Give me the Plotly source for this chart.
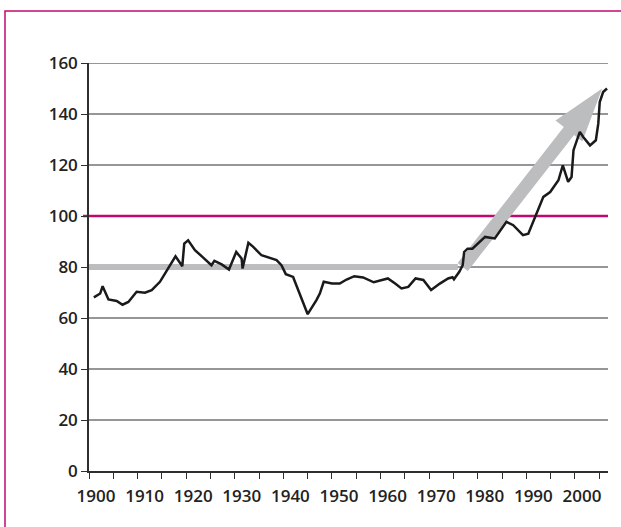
import numpy as np
import plotly.graph_objects as go

# ---- data ----
years = [1901, 1902.3, 1902.8, 1904, 1905.7, 1906.9, 1908.1, 1909.8, 1911.5, 1912.9,
         1914.6, 1916.3, 1917.8, 1919.2, 1919.6, 1920.4, 1921.8, 1923.5, 1925.2, 1925.8,
         1927.3, 1928.8, 1930.3, 1931.4, 1931.6, 1932.8, 1933.8, 1935.5, 1938.6, 1939.6,
         1940.5, 1942, 1943.4, 1945, 1946.8, 1947.5, 1948.3, 1950, 1951.6, 1953,
         1954.6, 1956.4, 1958.6, 1960.5, 1961.5, 1963, 1964.3, 1965.7, 1967.2, 1968.8,
         1970.4, 1972.2, 1973.9, 1974.8, 1975.1, 1976.2, 1976.9, 1977.2, 1977.9, 1978.9,
         1980.5, 1981.5, 1983.5, 1985.9, 1987.3, 1989.3, 1990.4, 1992.1, 1993.5, 1994.9,
         1996.6, 1997.5, 1998.6, 1999.3, 1999.7, 2001, 2001.7, 2003.1, 2004.3, 2004.8,
         2005.1, 2005.8, 2006.6]
index_values = [68.1, 69.6, 72.5, 67.3, 66.7, 65.2, 66.3, 70.3, 69.9, 70.9,
                74.2, 79.4, 84.2, 80.3, 89.2, 90.5, 86.6, 83.7, 80.7, 82.4,
                81.0, 79.0, 85.9, 83.3, 79.4, 89.5, 87.9, 84.6, 82.7, 80.7,
                77.2, 76.1, 69.6, 61.5, 67.0, 69.6, 74.2, 73.5, 73.5, 75.1,
                76.4, 75.9, 74.0, 75.0, 75.5, 73.5, 71.6, 72.2, 75.5, 74.9,
                71.0, 73.5, 75.5, 76.0, 75.2, 78.1, 80.7, 85.9, 87.2, 87.2,
                89.8, 91.8, 91.2, 97.7, 96.4, 92.5, 93.1, 101.0, 107.5, 109.4,
                114.0, 119.9, 113.4, 115.3, 125.8, 133.0, 131.0, 127.7, 129.7, 136.2,
                144.7, 148.6, 150.0]

reference_level = 100
plateau_level = 80
plateau_years = [1900, 1975.9]
trend_start = (1976.9, 80)
trend_end = (2005.6, 150)

x_ticks = list(range(1900, 2006, 5))
x_labels = [str(y) if y % 10 == 0 else "" for y in x_ticks]
y_ticks = list(range(0, 161, 20))

x_range = [1900, 2006.8]
y_range = [0, 160]

# ---- layout geometry ----
W, H = 621, 527
M = dict(l=89, r=13, t=63, b=56)
PW = W - M["l"] - M["r"]
PH = H - M["t"] - M["b"]

MAGENTA = "#c2086e"
GRID = "#2e2e2e"
GREY = "#bcbdbf"


def to_px(x, y):
    return ((x - x_range[0]) / (x_range[1] - x_range[0]) * PW,
            (y - y_range[0]) / (y_range[1] - y_range[0]) * PH)


def to_data(px, py):
    return (x_range[0] + px / PW * (x_range[1] - x_range[0]),
            y_range[0] + py / PH * (y_range[1] - y_range[0]))


# arrow polygon built from the trend anchors
T = np.array(to_px(*trend_start))
P = np.array(to_px(*trend_end))
u = (P - T) / np.linalg.norm(P - T)
n = np.array([-u[1], u[0]])
shaft_hw, head_hw, head_len = 6.5, 17.0, 54.0
B = P - u * head_len
poly_px = [T + n * shaft_hw, B + n * shaft_hw, B + n * head_hw, P,
           B - n * head_hw, B - n * shaft_hw, T - n * shaft_hw, T + n * shaft_hw]
poly = [to_data(*p) for p in poly_px]

fig = go.Figure()
fig.add_trace(go.Scatter(x=plateau_years, y=[plateau_level] * 2, mode="lines",
                         line=dict(color=GREY, width=6), hoverinfo="skip"))
fig.add_trace(go.Scatter(x=[p[0] for p in poly], y=[p[1] for p in poly], mode="lines",
                         fill="toself", fillcolor=GREY, line=dict(width=0, color=GREY),
                         hoverinfo="skip"))
fig.add_trace(go.Scatter(x=years, y=index_values, mode="lines",
                         line=dict(color="#1a1a1a", width=2.5)))

# grid lines (drawn as shapes so the reference level can be coloured)
for v in y_ticks:
    if v in (0, reference_level):
        continue
    fig.add_shape(type="line", xref="paper", yref="y", x0=0, x1=1, y0=v, y1=v,
                  layer="below", line=dict(color=GRID, width=1.2))
fig.add_shape(type="line", xref="paper", yref="y", x0=-6 / PW, x1=1,
              y0=reference_level, y1=reference_level, layer="below",
              line=dict(color=MAGENTA, width=2.5))
# frame
fig.add_shape(type="rect", xref="paper", yref="paper",
              x0=-84 / PW, x1=1.2, y0=-0.3, y1=(H - M["b"] - 11) / PH,
              line=dict(color=MAGENTA, width=1.5), layer="below")

font = dict(family="Open Sans", size=17, color="#222222", weight=600)
fig.update_layout(
    width=W, height=H, margin=M, showlegend=False,
    paper_bgcolor="white", plot_bgcolor="white",
    xaxis=dict(range=x_range, tickvals=x_ticks, ticktext=x_labels,
               showgrid=False, zeroline=False, showline=True, linecolor=GRID,
               linewidth=1.5, ticks="outside", ticklen=6, tickcolor=GRID, tickwidth=1.2,
               tickfont=font, ticklabelshift=7, ticklabelstandoff=3),
    yaxis=dict(range=y_range, tickvals=y_ticks, showgrid=False,
               zeroline=False, showline=True, linecolor=GRID,
               linewidth=1.5, ticks="outside", ticklen=6, tickcolor=GRID, tickwidth=1.2,
               tickfont=font, ticklabelstandoff=0),
)

fig.write_html("out.html", config={"displayModeBar": False},
               post_script="document.body.style.margin='0';")
